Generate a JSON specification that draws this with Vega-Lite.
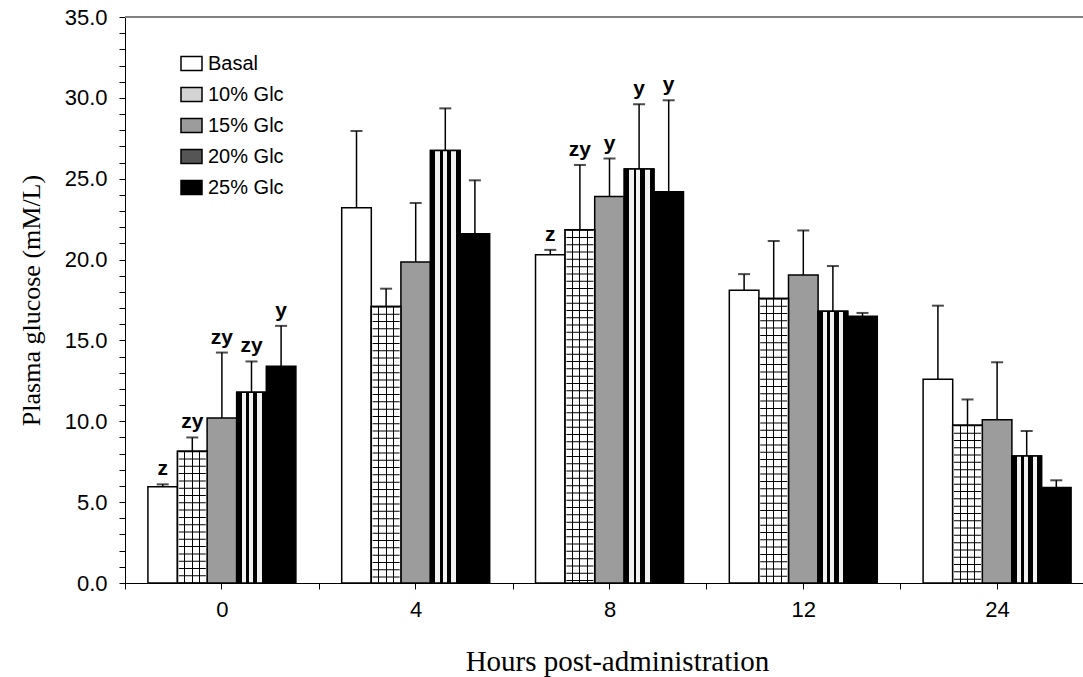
{
  "$schema": "https://vega.github.io/schema/vega-lite/v6.json",
  "width": 958,
  "height": 566,
  "autosize": {"type": "none"},
  "padding": {"left": 125, "top": 17, "right": 0, "bottom": 94},
  "background": "white",
  "config": {"view": {"stroke": null}, "font": "Liberation Sans"},
  "data": {
    "values": [
      {"hour": 0, "group": "Basal", "mean": 5.95, "top": 6.1, "label": "z"},
      {"hour": 0, "group": "10% Glc", "mean": 8.15, "top": 9.0, "label": "zy"},
      {"hour": 0, "group": "15% Glc", "mean": 10.2, "top": 14.25, "label": "zy"},
      {"hour": 0, "group": "20% Glc", "mean": 11.8, "top": 13.7, "label": "zy"},
      {"hour": 0, "group": "25% Glc", "mean": 13.4, "top": 15.9, "label": "y"},
      {"hour": 4, "group": "Basal", "mean": 23.2, "top": 27.95, "label": ""},
      {"hour": 4, "group": "10% Glc", "mean": 17.1, "top": 18.2, "label": ""},
      {"hour": 4, "group": "15% Glc", "mean": 19.85, "top": 23.5, "label": ""},
      {"hour": 4, "group": "20% Glc", "mean": 26.75, "top": 29.35, "label": ""},
      {"hour": 4, "group": "25% Glc", "mean": 21.6, "top": 24.9, "label": ""},
      {"hour": 8, "group": "Basal", "mean": 20.3, "top": 20.6, "label": "z"},
      {"hour": 8, "group": "10% Glc", "mean": 21.85, "top": 25.85, "label": "zy"},
      {"hour": 8, "group": "15% Glc", "mean": 23.9, "top": 26.25, "label": "y"},
      {"hour": 8, "group": "20% Glc", "mean": 25.6, "top": 29.6, "label": "y"},
      {"hour": 8, "group": "25% Glc", "mean": 24.2, "top": 29.85, "label": "y"},
      {"hour": 12, "group": "Basal", "mean": 18.1, "top": 19.1, "label": ""},
      {"hour": 12, "group": "10% Glc", "mean": 17.6, "top": 21.15, "label": ""},
      {"hour": 12, "group": "15% Glc", "mean": 19.05, "top": 21.8, "label": ""},
      {"hour": 12, "group": "20% Glc", "mean": 16.8, "top": 19.6, "label": ""},
      {"hour": 12, "group": "25% Glc", "mean": 16.5, "top": 16.7, "label": ""},
      {"hour": 24, "group": "Basal", "mean": 12.6, "top": 17.15, "label": ""},
      {"hour": 24, "group": "10% Glc", "mean": 9.75, "top": 11.35, "label": ""},
      {"hour": 24, "group": "15% Glc", "mean": 10.1, "top": 13.65, "label": ""},
      {"hour": 24, "group": "20% Glc", "mean": 7.85, "top": 9.4, "label": ""},
      {"hour": 24, "group": "25% Glc", "mean": 5.9, "top": 6.35, "label": ""}
    ]
  },
  "resolve": {"axis": {"x": "independent"}},
  "layer": [
    {
      "mark": {"type": "bar", "stroke": "black", "strokeWidth": 1.5},
      "encoding": {
        "x": {
          "field": "hour", "type": "ordinal", "sort": [0, 4, 8, 12, 24],
          "scale": {"range": [0, 969], "paddingInner": 0, "paddingOuter": 0},
          "axis": {
            "orient": "bottom",
            "title": "Hours post-administration",
            "titleFont": "Liberation Serif", "titleFontSize": 29, "titleFontWeight": "normal", "titleColor": "black",
            "titlePadding": 27, "titleX": 492,
            "labelFont": "Liberation Sans", "labelFontSize": 22, "labelColor": "black", "labelAngle": 0, "labelPadding": 10,
            "tickBand": "extent", "tickSize": 6, "tickColor": "black", "domainColor": "black", "grid": false
          }
        },
        "xOffset": {
          "field": "group", "type": "nominal",
          "sort": ["Basal", "10% Glc", "15% Glc", "20% Glc", "25% Glc"],
          "scale": {"paddingInner": 0, "paddingOuter": 0.774}
        },
        "y": {
          "field": "mean", "type": "quantitative",
          "scale": {"domain": [0, 35], "nice": false, "zero": true},
          "axis": {
            "title": "Plasma glucose (mM/L)",
            "titleFont": "Liberation Serif", "titleFontSize": 26, "titleFontWeight": "normal", "titleColor": "black",
            "titlePadding": 20,
            "values": [0,1,2,3,4,5,6,7,8,9,10,11,12,13,14,15,16,17,18,19,20,21,22,23,24,25,26,27,28,29,30,31,32,33,34,35],
            "labelExpr": "datum.value % 5 === 0 ? format(datum.value, '.1f') : ''",
            "labelOverlap": false, "labelFlush": false,
            "labelFont": "Liberation Sans", "labelFontSize": 22, "labelColor": "black", "labelPadding": 12,
            "tickSize": 6, "tickColor": "black", "domainColor": "black", "grid": false
          }
        },
        "fill": {
          "field": "group", "type": "nominal",
          "sort": ["Basal", "10% Glc", "15% Glc", "20% Glc", "25% Glc"],
          "scale": {
            "domain": ["Basal", "10% Glc", "15% Glc", "20% Glc", "25% Glc"],
            "range": ["white", "#d4d4d4", "#9c9c9c", "#555555", "black"]
          },
          "legend": {
            "orient": "none", "legendX": 55, "legendY": 35, "title": null, "padding": 0,
            "labelFont": "Liberation Sans", "labelFontSize": 20, "labelColor": "black", "labelOffset": 5,
            "symbolType": "M-1,-0.667H1V0.667H-1Z", "symbolSize": 441,
            "symbolStrokeColor": "black", "symbolStrokeWidth": 1.5, "symbolOpacity": 1, "symbolFillOpacity": 1, "rowPadding": 9
          }
        }
      }
    },
    {
      "mark": {"type": "rule", "stroke": "#808080", "strokeWidth": 1.5},
      "encoding": {"y": {"datum": 35, "type": "quantitative",
          "axis": {
            "title": "Plasma glucose (mM/L)",
            "titleFont": "Liberation Serif", "titleFontSize": 26, "titleFontWeight": "normal", "titleColor": "black",
            "titlePadding": 20,
            "values": [0,1,2,3,4,5,6,7,8,9,10,11,12,13,14,15,16,17,18,19,20,21,22,23,24,25,26,27,28,29,30,31,32,33,34,35],
            "labelExpr": "datum.value % 5 === 0 ? format(datum.value, '.1f') : ''",
            "labelOverlap": false, "labelFlush": false,
            "labelFont": "Liberation Sans", "labelFontSize": 22, "labelColor": "black", "labelPadding": 12,
            "tickSize": 6, "tickColor": "black", "domainColor": "black", "grid": false
          }}}
    },
    {
      "transform": [{"filter": "datum.group === '10% Glc'"}],
      "mark": {"type": "bar", "stroke": "black", "strokeWidth": 1.5,
        "fill": {"gradient": "linear", "x1": 0, "y1": 0, "x2": 1, "y2": 0, "stops": [
          {"offset": 0, "color": "white"}, {"offset": 0.235, "color": "white"},
          {"offset": 0.235, "color": "black"}, {"offset": 0.27, "color": "black"},
          {"offset": 0.27, "color": "white"}, {"offset": 0.485, "color": "white"},
          {"offset": 0.485, "color": "black"}, {"offset": 0.52, "color": "black"},
          {"offset": 0.52, "color": "white"}, {"offset": 0.735, "color": "white"},
          {"offset": 0.735, "color": "black"}, {"offset": 0.77, "color": "black"},
          {"offset": 0.77, "color": "white"}, {"offset": 1, "color": "white"}
        ]}},
      "encoding": {
        "x": {"field": "hour", "type": "ordinal", "sort": [0, 4, 8, 12, 24], "axis": null},
        "xOffset": {"field": "group", "type": "nominal", "sort": ["Basal", "10% Glc", "15% Glc", "20% Glc", "25% Glc"]},
        "y": {"field": "mean", "type": "quantitative",
          "axis": {
            "title": "Plasma glucose (mM/L)",
            "titleFont": "Liberation Serif", "titleFontSize": 26, "titleFontWeight": "normal", "titleColor": "black",
            "titlePadding": 20,
            "values": [0,1,2,3,4,5,6,7,8,9,10,11,12,13,14,15,16,17,18,19,20,21,22,23,24,25,26,27,28,29,30,31,32,33,34,35],
            "labelExpr": "datum.value % 5 === 0 ? format(datum.value, '.1f') : ''",
            "labelOverlap": false, "labelFlush": false,
            "labelFont": "Liberation Sans", "labelFontSize": 22, "labelColor": "black", "labelPadding": 12,
            "tickSize": 6, "tickColor": "black", "domainColor": "black", "grid": false
          }}
      }
    },
    {
      "transform": [{"filter": "datum.group === '20% Glc'"}],
      "mark": {"type": "bar", "stroke": "black", "strokeWidth": 1.5,
        "fill": {"gradient": "linear", "x1": 0, "y1": 0, "x2": 1, "y2": 0, "stops": [
          {"offset": 0, "color": "black"}, {"offset": 0.167, "color": "black"},
          {"offset": 0.167, "color": "#f2f2f2"}, {"offset": 0.311, "color": "#f2f2f2"},
          {"offset": 0.311, "color": "black"}, {"offset": 0.411, "color": "black"},
          {"offset": 0.411, "color": "#f2f2f2"}, {"offset": 0.544, "color": "#f2f2f2"},
          {"offset": 0.544, "color": "black"}, {"offset": 0.7, "color": "black"},
          {"offset": 0.7, "color": "#f2f2f2"}, {"offset": 0.856, "color": "#f2f2f2"},
          {"offset": 0.856, "color": "black"}, {"offset": 1, "color": "black"}
        ]}},
      "encoding": {
        "x": {"field": "hour", "type": "ordinal", "sort": [0, 4, 8, 12, 24], "axis": null},
        "xOffset": {"field": "group", "type": "nominal", "sort": ["Basal", "10% Glc", "15% Glc", "20% Glc", "25% Glc"]},
        "y": {"field": "mean", "type": "quantitative",
          "axis": {
            "title": "Plasma glucose (mM/L)",
            "titleFont": "Liberation Serif", "titleFontSize": 26, "titleFontWeight": "normal", "titleColor": "black",
            "titlePadding": 20,
            "values": [0,1,2,3,4,5,6,7,8,9,10,11,12,13,14,15,16,17,18,19,20,21,22,23,24,25,26,27,28,29,30,31,32,33,34,35],
            "labelExpr": "datum.value % 5 === 0 ? format(datum.value, '.1f') : ''",
            "labelOverlap": false, "labelFlush": false,
            "labelFont": "Liberation Sans", "labelFontSize": 22, "labelColor": "black", "labelPadding": 12,
            "tickSize": 6, "tickColor": "black", "domainColor": "black", "grid": false
          }}
      }
    },
    {
      "transform": [{"filter": "datum.group === '10% Glc'"}],
      "mark": {"type": "rule", "stroke": "black", "strokeWidth": 27, "strokeDash": [1, 6.3], "strokeCap": "butt"},
      "encoding": {
        "x": {"field": "hour", "type": "ordinal", "sort": [0, 4, 8, 12, 24], "axis": null},
        "xOffset": {"field": "group", "type": "nominal", "sort": ["Basal", "10% Glc", "15% Glc", "20% Glc", "25% Glc"]},
        "y": {"field": "mean", "type": "quantitative",
          "axis": {
            "title": "Plasma glucose (mM/L)",
            "titleFont": "Liberation Serif", "titleFontSize": 26, "titleFontWeight": "normal", "titleColor": "black",
            "titlePadding": 20,
            "values": [0,1,2,3,4,5,6,7,8,9,10,11,12,13,14,15,16,17,18,19,20,21,22,23,24,25,26,27,28,29,30,31,32,33,34,35],
            "labelExpr": "datum.value % 5 === 0 ? format(datum.value, '.1f') : ''",
            "labelOverlap": false, "labelFlush": false,
            "labelFont": "Liberation Sans", "labelFontSize": 22, "labelColor": "black", "labelPadding": 12,
            "tickSize": 6, "tickColor": "black", "domainColor": "black", "grid": false
          }},
        "y2": {"datum": 0}
      }
    },
    {
      "mark": {"type": "rule", "stroke": "black", "strokeWidth": 1.5},
      "encoding": {
        "x": {"field": "hour", "type": "ordinal", "sort": [0, 4, 8, 12, 24], "axis": null},
        "xOffset": {"field": "group", "type": "nominal", "sort": ["Basal", "10% Glc", "15% Glc", "20% Glc", "25% Glc"]},
        "y": {"field": "mean", "type": "quantitative",
          "axis": {
            "title": "Plasma glucose (mM/L)",
            "titleFont": "Liberation Serif", "titleFontSize": 26, "titleFontWeight": "normal", "titleColor": "black",
            "titlePadding": 20,
            "values": [0,1,2,3,4,5,6,7,8,9,10,11,12,13,14,15,16,17,18,19,20,21,22,23,24,25,26,27,28,29,30,31,32,33,34,35],
            "labelExpr": "datum.value % 5 === 0 ? format(datum.value, '.1f') : ''",
            "labelOverlap": false, "labelFlush": false,
            "labelFont": "Liberation Sans", "labelFontSize": 22, "labelColor": "black", "labelPadding": 12,
            "tickSize": 6, "tickColor": "black", "domainColor": "black", "grid": false
          }},
        "y2": {"field": "top"}
      }
    },
    {
      "mark": {"type": "tick", "color": "black", "size": 12, "thickness": 2, "orient": "horizontal"},
      "encoding": {
        "x": {
          "field": "hour", "type": "ordinal", "sort": [0, 4, 8, 12, 24],
          "axis": {"orient": "bottom", "labels": false, "title": null, "domain": false, "tickBand": "center", "tickSize": 6, "tickColor": "black", "grid": false}
        },
        "xOffset": {"field": "group", "type": "nominal", "sort": ["Basal", "10% Glc", "15% Glc", "20% Glc", "25% Glc"]},
        "y": {"field": "top", "type": "quantitative",
          "axis": {
            "title": "Plasma glucose (mM/L)",
            "titleFont": "Liberation Serif", "titleFontSize": 26, "titleFontWeight": "normal", "titleColor": "black",
            "titlePadding": 20,
            "values": [0,1,2,3,4,5,6,7,8,9,10,11,12,13,14,15,16,17,18,19,20,21,22,23,24,25,26,27,28,29,30,31,32,33,34,35],
            "labelExpr": "datum.value % 5 === 0 ? format(datum.value, '.1f') : ''",
            "labelOverlap": false, "labelFlush": false,
            "labelFont": "Liberation Sans", "labelFontSize": 22, "labelColor": "black", "labelPadding": 12,
            "tickSize": 6, "tickColor": "black", "domainColor": "black", "grid": false
          }}
      }
    },
    {
      "transform": [{"filter": "datum.label !== ''"}],
      "mark": {"type": "text", "font": "Liberation Sans", "fontWeight": "bold", "fontSize": 21, "color": "black", "baseline": "alphabetic", "dy": -9},
      "encoding": {
        "x": {"field": "hour", "type": "ordinal", "sort": [0, 4, 8, 12, 24], "axis": null},
        "xOffset": {"field": "group", "type": "nominal", "sort": ["Basal", "10% Glc", "15% Glc", "20% Glc", "25% Glc"]},
        "y": {"field": "top", "type": "quantitative",
          "axis": {
            "title": "Plasma glucose (mM/L)",
            "titleFont": "Liberation Serif", "titleFontSize": 26, "titleFontWeight": "normal", "titleColor": "black",
            "titlePadding": 20,
            "values": [0,1,2,3,4,5,6,7,8,9,10,11,12,13,14,15,16,17,18,19,20,21,22,23,24,25,26,27,28,29,30,31,32,33,34,35],
            "labelExpr": "datum.value % 5 === 0 ? format(datum.value, '.1f') : ''",
            "labelOverlap": false, "labelFlush": false,
            "labelFont": "Liberation Sans", "labelFontSize": 22, "labelColor": "black", "labelPadding": 12,
            "tickSize": 6, "tickColor": "black", "domainColor": "black", "grid": false
          }},
        "text": {"field": "label"}
      }
    }
  ]
}
